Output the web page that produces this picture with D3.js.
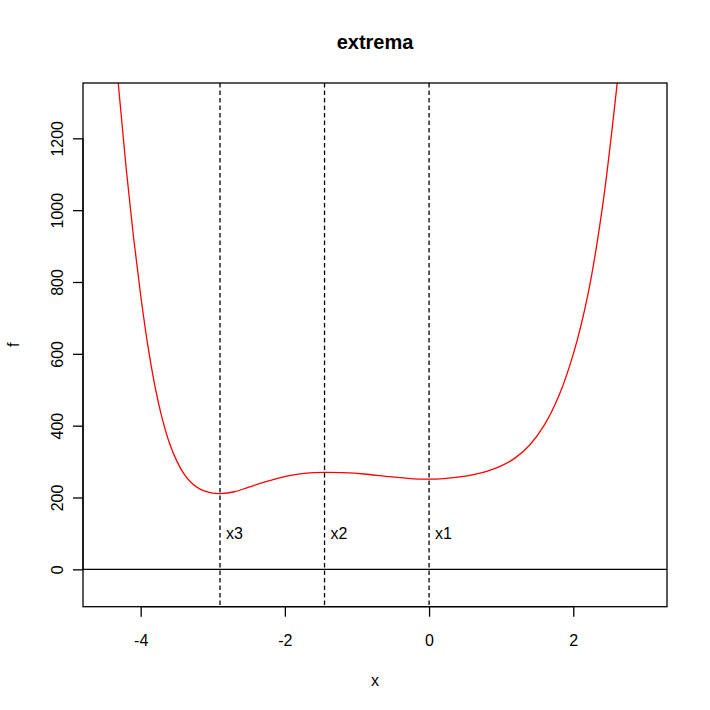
<!DOCTYPE html>
<html>
<head>
<meta charset="utf-8">
<script src="https://cdn.jsdelivr.net/npm/d3@7"></script>
<style>
  html, body { margin: 0; padding: 0; background: #fff; }
  svg { display: block; }
  text { font-family: "Liberation Sans", Arial, Helvetica, sans-serif; fill: #000; }
</style>
</head>
<body>
<svg id="chart" width="710" height="710"></svg>
<script>
// ---- data ----
const curveX = [-4.4, -4.3, -4.2, -4.1, -4.0, -3.9, -3.8, -3.7, -3.6, -3.5, -3.4, -3.3, -3.2, -3.1, -3.0, -2.9, -2.7, -2.5, -2.3, -2.1, -1.9, -1.7, -1.45, -1.2, -0.9, -0.6, -0.3, 0.0, 0.2, 0.4, 0.6, 0.8, 1.0, 1.2, 1.4, 1.6, 1.8, 2.0, 2.2, 2.4, 2.6, 2.7];
const curveF = [1576, 1329, 1114, 926, 763, 622, 508, 419, 351, 302, 266, 242, 226, 217, 212, 211, 216, 229, 242, 253, 262, 268, 270, 269, 265.5, 259, 253.5, 251, 252.5, 256.5, 263, 273, 288, 311, 347, 402, 483, 599, 762, 1002, 1337, 1540];
const extremaX = [0, -1.45, -2.9];
const extremaLabels = ["x1", "x2", "x3"];
const labelF = 100;
const xTicks = [-4, -2, 0, 2];
const yTicks = [0, 200, 400, 600, 800, 1000, 1200];
const xLim = [-4.5, 3];
const yLim = [-50, 1300];
const titleText = "extrema";
const xLabel = "x";
const yLabel = "f";

// ---- layout ----
const W = 710, H = 710;
const pL = 83, pR = 667, pT = 83, pB = 606.7;
const padX = (xLim[1] - xLim[0]) * 0.04;
const padY = (yLim[1] - yLim[0]) * 0.04;

const x = d3.scaleLinear().domain([xLim[0] - padX, xLim[1] + padX]).range([pL, pR]);
const y = d3.scaleLinear().domain([yLim[0] - padY, yLim[1] + padY]).range([pB, pT]);

const svg = d3.select("#chart");
svg.append("rect").attr("width", W).attr("height", H).attr("fill", "#fff");

svg.append("defs").append("clipPath").attr("id", "plotclip")
  .append("rect").attr("x", pL).attr("y", pT)
  .attr("width", pR - pL).attr("height", pB - pT);

const plot = svg.append("g").attr("clip-path", "url(#plotclip)");

// curve
const pts = curveX.map((d, i) => [d, curveF[i]]);
const line = d3.line().x(d => x(d[0])).y(d => y(d[1])).curve(d3.curveCatmullRom.alpha(0.5));
plot.append("path").datum(pts).attr("d", line)
  .attr("fill", "none").attr("stroke", "#ff0000").attr("stroke-width", 1.3);

// horizontal zero line
plot.append("line")
  .attr("x1", pL).attr("x2", pR)
  .attr("y1", y(0)).attr("y2", y(0))
  .attr("stroke", "#000").attr("stroke-width", 1.3);

// dashed vertical lines
plot.selectAll("line.vl").data(extremaX).enter().append("line")
  .attr("class", "vl")
  .attr("x1", d => x(d)).attr("x2", d => x(d))
  .attr("y1", pT).attr("y2", pB)
  .attr("stroke", "#000").attr("stroke-width", 1.3)
  .attr("stroke-dasharray", "4.5,3");

// labels x1, x2, x3
svg.selectAll("text.ex").data(extremaX).enter().append("text")
  .attr("class", "ex")
  .attr("x", d => x(d) + 6)
  .attr("y", y(labelF) + 6)
  .attr("font-size", 16)
  .text((d, i) => extremaLabels[i]);

// box
svg.append("rect")
  .attr("x", pL).attr("y", pT)
  .attr("width", pR - pL).attr("height", pB - pT)
  .attr("fill", "none").attr("stroke", "#000").attr("stroke-width", 1.3);

// x axis
const xAxis = d3.axisBottom(x).tickValues(xTicks).tickSize(10).tickPadding(0)
  .tickFormat(d => String(d));
const gx = svg.append("g").attr("transform", `translate(0,${pB})`).call(xAxis);
gx.select(".domain").remove();
gx.selectAll(".tick line").attr("stroke", "#000").attr("stroke-width", 1.3);
gx.selectAll(".tick text").attr("font-size", 16).attr("dy", null).attr("y", 39)
  .attr("font-family", '"Liberation Sans", Arial, sans-serif').attr("fill", "#000");
gx.append("line")
  .attr("x1", x(xTicks[0])).attr("x2", x(xTicks[xTicks.length - 1]))
  .attr("y1", 0).attr("y2", 0)
  .attr("stroke", "#000").attr("stroke-width", 1.3);

// y axis
const yAxis = d3.axisLeft(y).tickValues(yTicks).tickSize(10).tickFormat(d => String(d));
const gy = svg.append("g").attr("transform", `translate(${pL},0)`).call(yAxis);
gy.select(".domain").remove();
gy.selectAll(".tick line").attr("stroke", "#000").attr("stroke-width", 1.3);
gy.selectAll(".tick text")
  .attr("font-size", 16).attr("dy", null).attr("x", null)
  .attr("text-anchor", "middle")
  .attr("font-family", '"Liberation Sans", Arial, sans-serif').attr("fill", "#000")
  .attr("transform", "translate(-20.5,0) rotate(-90)");
gy.append("line")
  .attr("x1", 0).attr("x2", 0)
  .attr("y1", y(yTicks[0])).attr("y2", y(yTicks[yTicks.length - 1]))
  .attr("stroke", "#000").attr("stroke-width", 1.3);

// title & axis labels
svg.append("text").attr("x", (pL + pR) / 2).attr("y", 49)
  .attr("text-anchor", "middle").attr("font-size", 20).attr("font-weight", "bold")
  .text(titleText);
svg.append("text").attr("x", (pL + pR) / 2).attr("y", 686)
  .attr("text-anchor", "middle").attr("font-size", 16).text(xLabel);
svg.append("text").attr("transform", `translate(19,${(pT + pB) / 2}) rotate(-90)`)
  .attr("text-anchor", "middle").attr("font-size", 16).text(yLabel);
</script>
</body>
</html>
